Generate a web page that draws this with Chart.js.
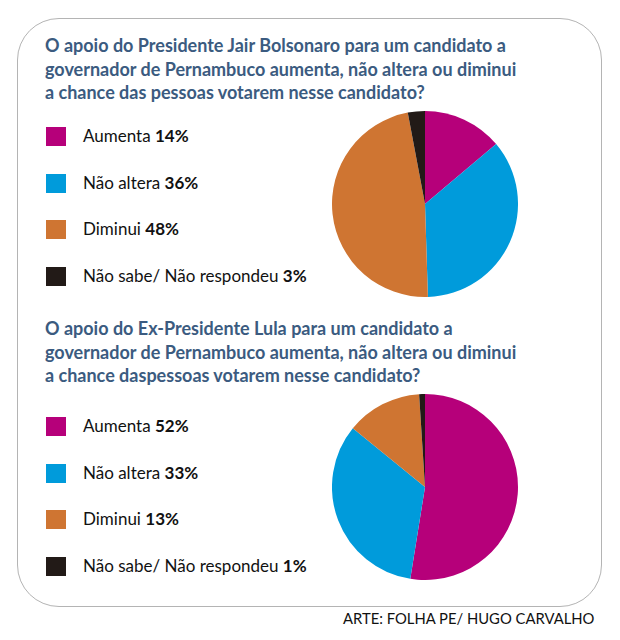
<!DOCTYPE html>
<html lang="pt">
<head>
<meta charset="UTF-8">
<title>Apoio Bolsonaro / Lula</title>
<script src="https://cdn.jsdelivr.net/npm/chart.js"></script>
<style>
  body { margin: 0; background: #fff; font-family: Lato, "Open Sans", sans-serif; }
  #page { position: relative; width: 620px; height: 640px; }
  .frame { position: absolute; left: 17px; top: 18px; width: 585px; height: 589px;
    border: 1.5px solid #b4b4b4; border-radius: 42px; box-sizing: border-box; }
  .titulo { position: absolute; left: 45px; width: 550px; color: #3b5b80; font-weight: bold;
    font-size: 18px; line-height: 23.5px; }
  .legenda { position: absolute; left: 46px; }
  .item { position: absolute; left: 0; white-space: nowrap; font-size: 17px; color: #111; }
  .item span.q { position: absolute; left: 0; top: 0; width: 20px; height: 19px; }
  .item span.t { position: absolute; left: 37px; top: -2px; line-height: 22px; }
  canvas.pizza { position: absolute; }
  .credito { position: absolute; left: 343px; top: 609px; font-size: 14.8px; color: #111; }
</style>
</head>
<body>
<div id="page">
  <div class="frame"></div>
  <div class="titulo" style="top: 34px">O apoio do Presidente Jair Bolsonaro para um candidato a<br>governador de Pernambuco aumenta, não altera ou diminui<br>a chance das pessoas votarem nesse candidato?</div>
  <div class="legenda" id="leg1" style="top: 127px"></div>
  <canvas class="pizza" id="pizza1" width="186" height="186" style="left: 332px; top: 111px"></canvas>

  <div class="titulo" style="top: 317px">O apoio do Ex-Presidente Lula para um candidato a<br>governador de Pernambuco aumenta, não altera ou diminui<br>a chance daspessoas votarem nesse candidato?</div>
  <div class="legenda" id="leg2" style="top: 417px"></div>
  <canvas class="pizza" id="pizza2" width="186" height="186" style="left: 332px; top: 394px"></canvas>

  <div class="credito">ARTE: FOLHA PE/ HUGO CARVALHO</div>
</div>
<script>
  const categorias = ['Aumenta', 'Não altera', 'Diminui', 'Não sabe/ Não respondeu'];
  const bolsonaro = [14, 36, 48, 3];
  const lula = [52, 33, 13, 1];
  const cores = ['#b6007a', '#009bdb', '#cf7532', '#221a17'];

  function montarLegenda(id, valores) {
    const el = document.getElementById(id);
    categorias.forEach(function (nome, i) {
      const item = document.createElement('div');
      item.className = 'item';
      item.style.top = (i * 46.5) + 'px';
      item.innerHTML = '<span class="q" style="background:' + cores[i] + '"></span>' +
        '<span class="t">' + nome + ' <b>' + valores[i] + '%</b></span>';
      el.appendChild(item);
    });
  }

  function montarPizza(id, valores) {
    const ctx = document.getElementById(id).getContext('2d');
    return new Chart(ctx, {
      type: 'pie',
      data: {
        labels: categorias,
        datasets: [{
          data: valores,
          backgroundColor: cores,
          borderWidth: 0
        }]
      },
      options: {
        responsive: false,
        animation: false,
        layout: { padding: 0 },
        plugins: {
          legend: { display: false },
          tooltip: { enabled: false }
        }
      }
    });
  }

  montarLegenda('leg1', bolsonaro);
  montarLegenda('leg2', lula);
  montarPizza('pizza1', bolsonaro);
  montarPizza('pizza2', lula);
</script>
</body>
</html>
